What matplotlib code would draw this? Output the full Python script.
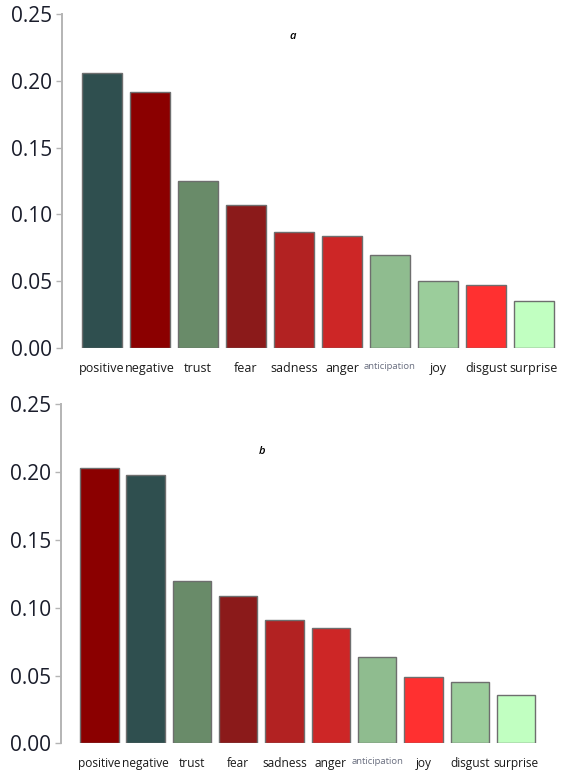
import numpy as np
import matplotlib
matplotlib.use("Agg")
import matplotlib.pyplot as plt

plt.rcParams['font.family'] = ['Open Sans', 'DejaVu Sans']

# 1. Data

emotions = ['positive', 'negative', 'trust', 'fear', 'sadness', 'anger',
            'anticipation', 'joy', 'disgust', 'surprise']

values_a = [0.206, 0.192, 0.125, 0.107, 0.087, 0.084, 0.070, 0.050, 0.047, 0.035]
values_b = [0.203, 0.198, 0.120, 0.109, 0.091, 0.085, 0.064, 0.049, 0.045, 0.036]

colors_a = ['#2F4F4F', '#8B0000', '#698B69', '#8B1A1A', '#B22222',
            '#CD2626', '#8FBC8F', '#9BCD9B', '#FF3030', '#C1FFC1']
colors_b = ['#8B0000', '#2F4F4F', '#698B69', '#8B1A1A', '#B22222',
            '#CD2626', '#8FBC8F', '#FF3030', '#9BCD9B', '#C1FFC1']

yticks = [0.00, 0.05, 0.10, 0.15, 0.20, 0.25]


# 2. Figure

fig = plt.figure(figsize=(5.68, 7.71), dpi=100)
ax_a = fig.add_axes([0.109, 0.5486, 0.8817, 0.4332])
ax_b = fig.add_axes([0.1069, 0.0359, 0.8505, 0.4397])


def draw_panel(ax, values, colors, letter, lx, ly, lab_size):
    x = np.arange(len(emotions))
    ax.bar(x, values, width=0.83, color=colors, edgecolor='#6e6e6e', linewidth=1.0)
    ax.set_xlim(-0.833, 9.6)
    ax.set_ylim(0, 0.25)

    for s in ['top', 'right', 'bottom']:
        ax.spines[s].set_visible(False)
    ax.spines['left'].set_color('#b4b4b4')
    ax.spines['left'].set_linewidth(1.4)

    ax.set_yticks(yticks)
    ax.set_yticklabels(['%.2f' % v for v in yticks], fontsize=15, color='#1a1d2b')
    ax.tick_params(axis='y', length=4, width=1.0, color='#b4b4b4', pad=3)

    ax.set_xticks(x)
    ax.set_xticklabels(emotions, fontsize=lab_size, color='#1a1a1a')
    ax.tick_params(axis='x', length=0, pad=10)
    # anticipation is drawn smaller and lighter
    lab = ax.get_xticklabels()[6]
    lab.set_fontsize(6.8)
    lab.set_color('#6a6f80')

    ax.text(lx, ly, letter, transform=ax.transAxes, fontsize=8,
            style='italic', fontweight='semibold', ha='center', va='center')


draw_panel(ax_a, values_a, colors_a, 'a', 0.461, 0.934, 9.0)
draw_panel(ax_b, values_b, colors_b, 'b', 0.417, 0.862, 8.6)

plt.savefig('out.png', dpi=100)
